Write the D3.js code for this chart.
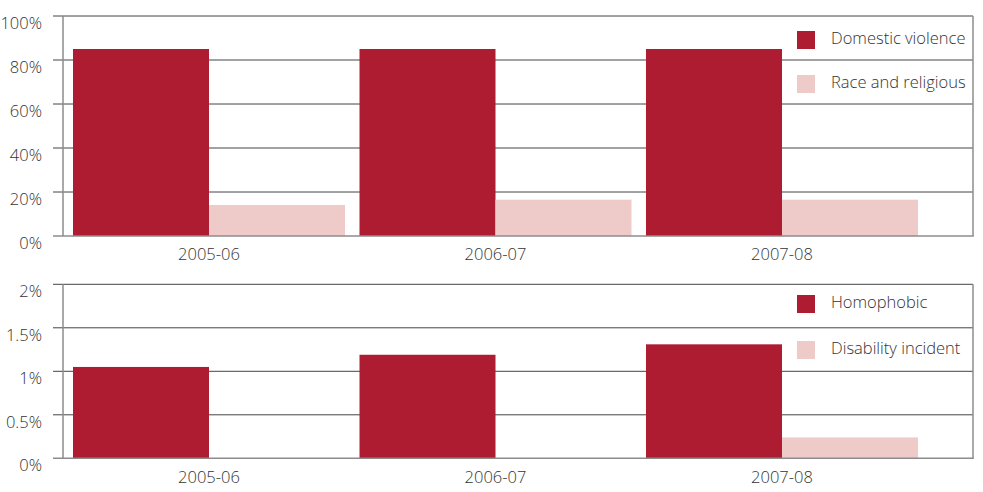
<!DOCTYPE html>
<html>
<head>
<meta charset="utf-8">
<script src="https://cdn.jsdelivr.net/npm/d3@7"></script>
<style>
  html, body { margin: 0; padding: 0; background: #fff; }
  svg text { font-family: "Open Sans", "Noto Sans", sans-serif; fill: #333; }
</style>
</head>
<body>
<svg id="chart" width="983" height="492"></svg>
<script>
// ---- data ----
const categories = ["2005-06", "2006-07", "2007-08"];
const domesticViolence = [85, 85, 85];
const raceReligious = [14.1, 16.5, 16.5];
const homophobic = [1.05, 1.19, 1.31];
const disability = [0, 0, 0.24];
const topTicks = [0, 20, 40, 60, 80, 100];
const topTickLabels = ["0%", "20%", "40%", "60%", "80%", "100%"];
const bottomTicks = [0, 0.5, 1, 1.5, 2];
const bottomTickLabels = ["0%", "0.5%", "1%", "1.5%", "2%"];
const topLegend = ["Domestic violence", "Race and religious"];
const bottomLegend = ["Homophobic", "Disability incident"];

const DARK = "#ad1c31";
const PINK = "#eecbc8";
const GRID = "#444";
const AXIS = "#8c8c8c";

const svg = d3.select("#chart");
const xLeft = 63, xRight = 973;

const x = d3.scaleBand().domain(categories).range([73, 918]).paddingInner(0.0506).paddingOuter(0);
const xs = d3.scaleBand().domain([0, 1]).range([0, x.bandwidth()]);

function panel(cfg) {
  const g = svg.append("g");
  const y = d3.scaleLinear().domain(cfg.domain).range([cfg.y0, cfg.y1]);

  // grid lines (excluding zero)
  g.selectAll("line.grid").data(cfg.ticks.filter(t => t !== 0)).join("line")
    .attr("x1", xLeft - 10).attr("x2", xRight)
    .attr("y1", d => y(d)).attr("y2", d => y(d))
    .attr("stroke", GRID).attr("stroke-width", 1);

  // tick labels
  g.selectAll("text.tick").data(cfg.ticks).join("text")
    .attr("x", 42).attr("y", d => y(d) + 8.5)
    .attr("text-anchor", "end").attr("dominant-baseline", "middle")
    .attr("font-size", 16.5).attr("font-weight", 300)
    .text((d, i) => cfg.tickLabels[i]);

  // bars
  const series = [cfg.s1, cfg.s2];
  const colors = [DARK, PINK];
  series.forEach((s, si) => {
    g.selectAll("rect.s" + si).data(categories).join("rect")
      .attr("x", d => x(d) + xs(si))
      .attr("width", xs.bandwidth())
      .attr("y", (d, i) => y(s[i]))
      .attr("height", (d, i) => y(0) - y(s[i]))
      .attr("fill", colors[si]);
  });

  // axis left vertical
  g.append("line").attr("x1", xLeft).attr("x2", xLeft)
    .attr("y1", y(cfg.domain[1])).attr("y2", y(0))
    .attr("stroke", AXIS).attr("stroke-width", 1.5);
  // right border
  g.append("line").attr("x1", xRight).attr("x2", xRight)
    .attr("y1", y(cfg.domain[1])).attr("y2", y(0))
    .attr("stroke", AXIS).attr("stroke-width", 1.5);
  // zero line
  g.append("line").attr("x1", xLeft - 10).attr("x2", xRight + 0.75)
    .attr("y1", y(0)).attr("y2", y(0))
    .attr("stroke", AXIS).attr("stroke-width", 1.5);

  // category labels
  g.selectAll("text.cat").data(categories).join("text")
    .attr("x", d => x(d) + x.bandwidth() / 2)
    .attr("y", cfg.catY)
    .attr("text-anchor", "middle").attr("dominant-baseline", "middle")
    .attr("font-size", 16.5).attr("font-weight", 300)
    .text(d => d);

  // legend
  cfg.legend.forEach((name, i) => {
    const cy = cfg.legendY[i];
    g.append("rect").attr("x", 797).attr("y", cy - 9).attr("width", 18).attr("height", 18)
      .attr("fill", colors[i]);
    g.append("text").attr("x", 831).attr("y", cy)
      .attr("dominant-baseline", "middle")
      .attr("font-size", 16.5).attr("font-weight", 300)
      .text(name);
  });
}

panel({ domain: [0, 100], y0: 236, y1: 16, ticks: topTicks, tickLabels: topTickLabels,
        s1: domesticViolence, s2: raceReligious, catY: 255.5, legend: topLegend, legendY: [40, 84] });
panel({ domain: [0, 2], y0: 458.3, y1: 284.3, ticks: bottomTicks, tickLabels: bottomTickLabels,
        s1: homophobic, s2: disability, catY: 479, legend: bottomLegend, legendY: [304, 350] });
</script>
</body>
</html>
